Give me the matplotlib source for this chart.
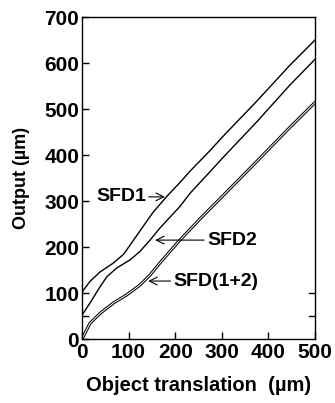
# -*- coding: utf-8 -*-

# Import libraries:
import numpy as np
import matplotlib
matplotlib.use("Agg")
import matplotlib.pyplot as plt

# Curve data (object translation [um] -> output [um])
x_sfd1 = [0, 17, 39, 67, 89, 110, 132, 153, 182, 210, 232, 275, 303, 375, 446, 500]
y_sfd1 = [102, 125, 146, 165, 184, 214, 246, 276, 310, 340, 365, 410, 441, 517, 595, 650]

x_sfd2 = [0, 17, 39, 53, 74, 103, 124, 146, 167, 210, 232, 275, 303, 375, 446, 500]
y_sfd2 = [52, 78, 114, 135, 154, 172, 190, 215, 241, 288, 317, 364, 395, 472, 552, 608]

x_sfd12 = [0, 17, 39, 67, 96, 124, 146, 167, 210, 257, 303, 375, 446, 500]
y_sfd12 = [0, 34, 56, 78, 96, 117, 139, 165, 215, 265, 312, 386, 460, 514]

xticks = [0, 100, 200, 300, 400, 500]
yticks = [0, 100, 200, 300, 400, 500, 600, 700]

plt.rcParams['font.family'] = ['Liberation Sans', 'DejaVu Sans']
plt.rcParams['font.weight'] = 'bold'

fig = plt.figure(figsize=(3.35, 4.03), dpi=100)
ax = fig.add_axes([0.2448, 0.1588, 0.6955, 0.799])

# SFD1 and SFD2 as plain lines
ax.plot(x_sfd1, y_sfd1, color='k', lw=1.0)
ax.plot(x_sfd2, y_sfd2, color='k', lw=1.0)
# SFD(1+2) is drawn as a double (hollow) line
ax.plot(x_sfd12, y_sfd12, color='k', lw=2.2)
ax.plot(x_sfd12, y_sfd12, color='w', lw=0.7)

ax.set_xlim(0, 500)
ax.set_ylim(0, 700)
ax.set_xticks(xticks)
ax.set_yticks(yticks)
ax.set_yticks([50], minor=True)
ax.tick_params(which='both', direction='in', length=5, width=1, pad=2, labelsize=15)
ax.tick_params(axis='x', pad=3)

# Small inward ticks on the right spine
for yv in [50, 100]:
    ax.plot([1, 0.975], [yv / 700.0, yv / 700.0], transform=ax.transAxes, color='k', lw=1, clip_on=False)

for s in ax.spines.values():
    s.set_linewidth(1.0)

ax.set_xlabel("Object translation  (\u00b5m)", fontsize=14.5, fontweight='bold', labelpad=10)
ax.set_ylabel("Output (\u00b5m)", fontsize=13, fontweight='bold', labelpad=10)

# Curve labels with arrows
arr = dict(arrowstyle='->', color='k', lw=0.8, shrinkA=0, shrinkB=0)
ax.annotate("SFD1", xy=(178, 309), xytext=(137, 309), fontsize=14, fontweight='bold',
            ha='right', va='center', arrowprops=arr)
ax.annotate("SFD2", xy=(157, 215), xytext=(268, 215), fontsize=14, fontweight='bold',
            ha='left', va='center', arrowprops=arr)
ax.annotate("SFD(1+2)", xy=(142, 126), xytext=(196, 126), fontsize=14, fontweight='bold',
            ha='left', va='center', arrowprops=arr)

fig.savefig("out.png", dpi=100)
